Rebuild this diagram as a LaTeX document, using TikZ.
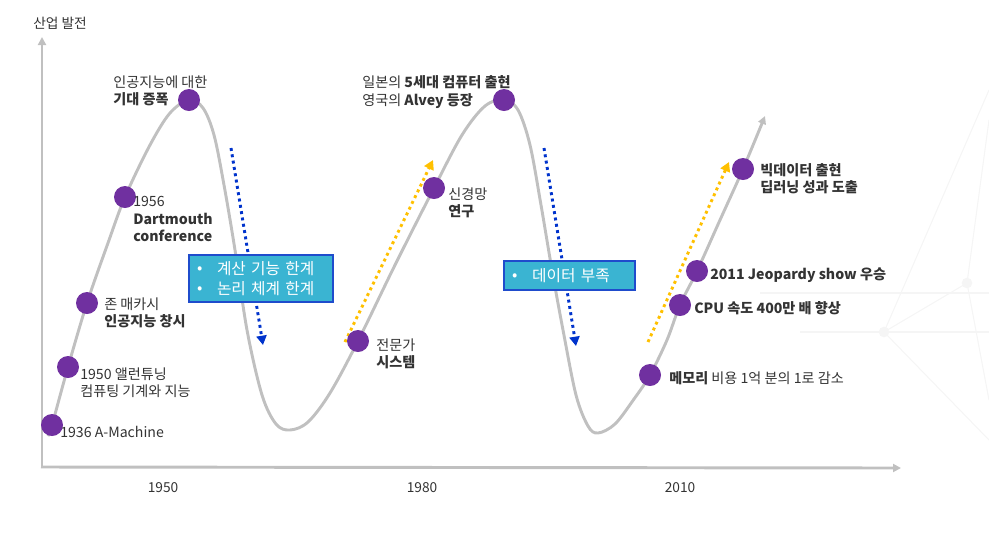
\documentclass[tikz,border=0pt]{standalone}
\usepackage{fontspec}
\setmainfont{Noto Sans CJK KR}
\usetikzlibrary{arrows.meta}
\definecolor{axisgray}{HTML}{C0C0C0}
\definecolor{dotpurple}{HTML}{7030A0}
\definecolor{txtgray}{HTML}{333333}
\definecolor{arrblue}{HTML}{0033CC}
\definecolor{arryellow}{HTML}{FFC000}
\definecolor{boxfill}{HTML}{3AB4D2}
\definecolor{boxline}{HTML}{1F4CCC}
\newcommand{\bul}{\raisebox{0.5pt}{•}\hspace{11pt}}
\begin{document}
\begin{tikzpicture}[x=0.75pt,y=-0.75pt,
  axisline/.style={draw=axisgray,line width=2.2pt,-{Triangle[width=6pt,length=6pt]}},
  curveline/.style={draw=axisgray,line width=2.2pt},
  dotnode/.style={circle,fill=dotpurple,inner sep=0pt,minimum size=16.5pt},
  lbl/.style={anchor=west,align=left,text=txtgray,inner sep=0pt,font=\fontsize{10.6}{12.9}\selectfont},
  yearlbl/.style={text=txtgray,inner sep=0pt,font=\fontsize{10.3}{12}\selectfont},
  bluearr/.style={draw=arrblue,line width=2.2pt,dash pattern=on 2.2pt off 2.6pt,-{Triangle[width=7.5pt,length=7pt]}},
  yelarr/.style={draw=arryellow,line width=2.2pt,dash pattern=on 2.2pt off 2.6pt,-{Triangle[width=7.5pt,length=7pt]}},
  infobox/.style={draw=boxline,line width=1.3pt,fill=boxfill,text=white,align=left,inner sep=0pt,font=\fontsize{11.8}{15}\selectfont},
  netline/.style={draw=black!4,line width=0.8pt}
]
\path[use as bounding box] (0,0) rectangle (989,537);

% faint background network
\coordinate (n1) at (967,283);
\coordinate (n2) at (884,332);
\draw[netline] (n2) -- (n1);
\draw[netline] (n2) -- (989,90);
\draw[netline] (n1) -- (989,120);
\draw[netline] (n1) -- (989,400);
\draw[netline] (n2) -- (989,440);
\draw[netline] (760,293) -- (989,293);
\draw[netline] (800,332) -- (989,332);
\fill[black!4] (n1) circle (4pt);
\fill[black!4] (n2) circle (4pt);

% axes
\coordinate (origin) at (42,468);
\coordinate (ytop) at (42,37);
\coordinate (xend) at (901,468);
\draw[axisline] (origin) -- (ytop);
\draw[axisline] (41,467) -- (xend);
\node[yearlbl,anchor=south west] (ylab) at (33,30) {산업 발전};
\node[yearlbl] (y1950) at (163,488) {1950};
\node[yearlbl] (y1980) at (422,488) {1980};
\node[yearlbl] (y2010) at (680,488) {2010};

% curve
\draw[curveline,-{Triangle[width=6pt,length=6pt]}] plot[smooth,tension=0.55] coordinates {
 (48,436) (52,425) (68,367) (87,303) (108,243) (125,197) (150,145) (170,113) (189,100)
 (203,108) (214,135) (224,185) (235,250) (247,330) (262,395) (276,424) (290,430)
 (308,422) (330,393) (358,341) (395,265) (434,188) (462,135) (485,106) (504,100)
 (518,110) (530,145) (541,205) (552,270) (563,330) (576,395) (588,426) (598,433)
 (615,424) (634,399) (650,375) (667,340) (680,305) (697,271) (720,220) (743,169) (765,116)};

% trend arrows
\coordinate (b1s) at (231,148); \coordinate (b1e) at (263,345);
\coordinate (b2s) at (544,148); \coordinate (b2e) at (576,346);
\coordinate (y1s) at (345,342); \coordinate (y1e) at (433,160);
\coordinate (y2s) at (648,342); \coordinate (y2e) at (729,162);
\draw[bluearr] (b1s) -- (b1e);
\draw[bluearr] (b2s) -- (b2e);
\draw[yelarr] (y1s) -- (y1e);
\draw[yelarr] (y2s) -- (y2e);

% info boxes
\node[infobox,minimum width=108pt,minimum height=35.25pt,text width=96pt] (box1) at (261,278.5)
  {\bul 계산 기능 한계\\\bul 논리 체계 한계};
\node[infobox,minimum width=98pt,minimum height=21.75pt,text width=86pt] (box2) at (569.5,275.5)
  {\bul 데이터 부족};

% dots
\node[dotnode] (d1) at (52,425) {};
\node[dotnode] (d2) at (68,367) {};
\node[dotnode] (d3) at (87,303) {};
\node[dotnode] (d4) at (125,197) {};
\node[dotnode] (d5) at (189,100) {};
\node[dotnode] (d6) at (358,341) {};
\node[dotnode] (d7) at (434,188) {};
\node[dotnode] (d8) at (504,100) {};
\node[dotnode] (d9) at (650,375) {};
\node[dotnode] (d10) at (680,305) {};
\node[dotnode] (d11) at (697,271) {};
\node[dotnode] (d12) at (743,169) {};

% labels
\node[lbl] (t1) at (60,432) {1936 A-Machine};
\node[lbl] (t2) at (80,383) {1950 앨런튜닝\\컴퓨팅 기계와 지능};
\node[lbl] (t3) at (104,313) {존 매카시\\\textbf{인공지능 창시}};
\node[lbl] (t4) at (133,219) {1956\\\textbf{Dartmouth}\\\textbf{conference}};
\node[lbl] (t5) at (113,91) {인공지능에 대한\\\textbf{기대 증폭}};
\node[lbl] (t6) at (376,354) {전문가\\\textbf{시스템}};
\node[lbl] (t7) at (448,203) {신경망\\\textbf{연구}};
\node[lbl] (t8) at (362,92) {일본의 \textbf{5세대 컴퓨터 출현}\\영국의 \textbf{Alvey 등장}};
\node[lbl] (t9) at (669,378) {\textbf{메모리} 비용 1억 분의 1로 감소};
\node[lbl] (t10) at (694,308) {\textbf{CPU 속도 400만 배 향상}};
\node[lbl] (t11) at (710,275) {\textbf{2011 Jeopardy show 우승}};
\node[lbl] (t12) at (760,179) {\textbf{빅데이터 출현}\\\textbf{딥러닝 성과 도출}};
\end{tikzpicture}
\end{document}
